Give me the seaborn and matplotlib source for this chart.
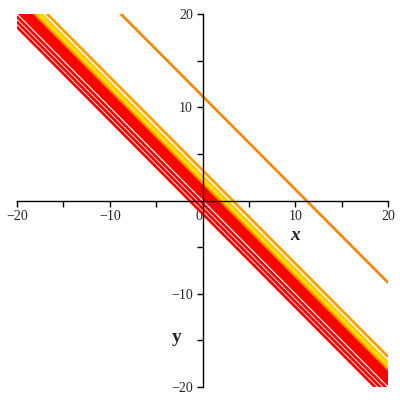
import numpy as np
import pandas as pd
import matplotlib
matplotlib.use("Agg")
import matplotlib.pyplot as plt
import seaborn as sns

# lines of the form y = intercept - x
intercepts = [11.2, 3.25, 2.6, 2.3, 2.05, 1.8, 1.5, 1.2, 0.9, 0.6, 0.3,
              -0.3, -0.85, -1.4]
line_colors = ["#f08a10", "#ffa000", "#ffc400", "#ffdc00", "#ffd400", "#ff8c00",
               "#ff0000", "#ff0000", "#ff0000", "#ff0000", "#ff0000",
               "#ff0000", "#ff0000", "#ff0000"]
slope = -1.0
x_ends = [-20, 20]

major_ticks = [-20, -10, 0, 10, 20]
minor_ticks = [-15, -5, 5, 15]

rows = []
for i, c in enumerate(intercepts):
    for x in x_ends:
        rows.append({"line": f"c{i}", "x": x, "y": c + slope * x})
df = pd.DataFrame(rows)

sns.set_style("white")
plt.rcParams["font.family"] = ["Liberation Serif", "DejaVu Serif"]

fig = plt.figure(figsize=(4, 4), dpi=100)
ax = fig.add_axes([0.0425, 0.0325, 0.9275, 0.9325])

palette = {f"c{i}": col for i, col in enumerate(line_colors)}
sns.lineplot(data=df, x="x", y="y", hue="line", palette=palette, linewidth=2.0,
             legend=False, ax=ax, sort=False, estimator=None)

ax.set_xlim(-20, 20)
ax.set_ylim(-20, 20)

for side in ["top", "right"]:
    ax.spines[side].set_visible(False)
ax.spines["left"].set_position(("data", 0))
ax.spines["bottom"].set_position(("data", 0))
for side in ["left", "bottom"]:
    ax.spines[side].set_linewidth(1.0)
    ax.spines[side].set_color("black")

ax.set_xticks(major_ticks)
ax.set_yticks([t for t in major_ticks if t != 0])
ax.set_xticks(minor_ticks, minor=True)
ax.set_yticks(minor_ticks, minor=True)
ax.set_xticklabels([f"{t}".replace("-", "\u2212") for t in major_ticks])
ax.set_yticklabels([f"{t}".replace("-", "\u2212") for t in major_ticks if t != 0])
ax.tick_params(which="both", direction="out", length=4.5, width=1, color="black",
               labelsize=10, pad=2.5, bottom=True, left=True)
for lab in ax.get_xticklabels():
    if lab.get_text() == "0":
        lab.set_horizontalalignment("right")

ax.set_xlabel("")
ax.set_ylabel("")
ax.text(10, -3.8, "x", fontsize=14, fontweight="bold", fontstyle="italic",
        ha="center", va="center")
ax.text(-2.8, -14.7, "y", fontsize=14, fontweight="bold", ha="center", va="center")

fig.savefig("out.png", dpi=100, facecolor="white")
